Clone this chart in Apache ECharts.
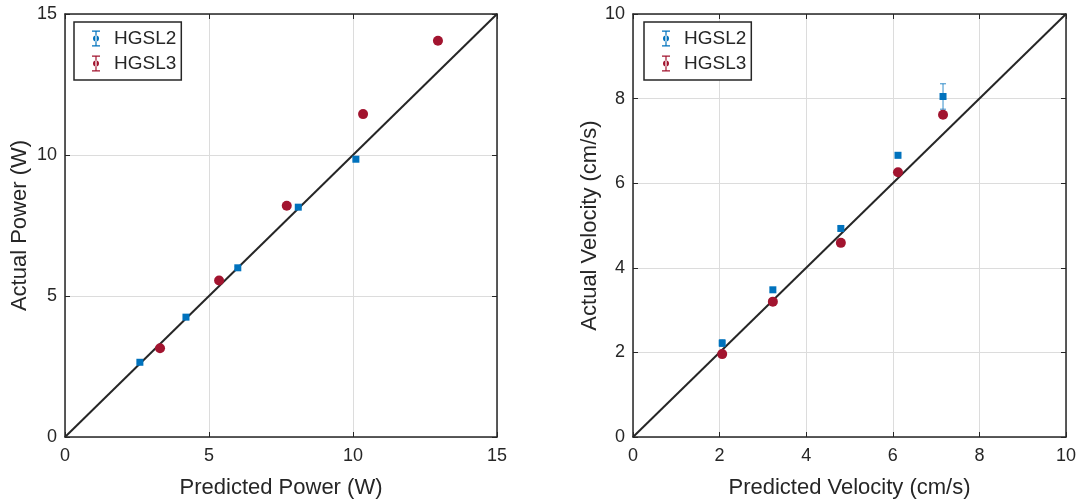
<!DOCTYPE html>
<html>
<head>
<meta charset="utf-8">
<script src="https://cdn.jsdelivr.net/npm/echarts@6/dist/echarts.min.js"></script>
<style>
  html, body { margin: 0; padding: 0; background: #fff; }
  #chart { width: 1083px; height: 502px; }
</style>
</head>
<body>
<div id="chart"></div>
<script>
// Power comparison (W): [predicted, actual]
const powerHGSL2 = [[2.6, 2.65], [4.2, 4.25], [6.0, 6.0], [8.1, 8.15], [10.1, 9.85]];
const powerHGSL3 = [[3.3, 3.15], [5.35, 5.55], [7.7, 8.2], [10.35, 11.45], [12.95, 14.05]];
const powerErrHGSL2 = [0.04, 0.04, 0.04, 0.04, 0.05];
const powerErrHGSL3 = [0.04, 0.04, 0.04, 0.04, 0.04];

// Velocity comparison (cm/s): [predicted, actual]
const velHGSL2 = [[2.06, 2.22], [3.23, 3.48], [4.8, 4.93], [6.12, 6.66], [7.16, 8.05]];
const velHGSL3 = [[2.06, 1.96], [3.23, 3.2], [4.8, 4.59], [6.12, 6.26], [7.16, 7.62]];
const velErrHGSL2 = [0.08, 0.05, 0.05, 0.06, 0.3];
const velErrHGSL3 = [0.04, 0.04, 0.05, 0.05, 0.06];

const powerTicks = { min: 0, max: 15, interval: 5 };
const velTicks = { min: 0, max: 10, interval: 2 };

const BLUE = '#0072BD';
const RED = '#A2142F';
const INK = '#262626';
const FONT = 'Liberation Sans, Arial, sans-serif';

// legend glyph: error bar with a dot in the middle
const errIcon = 'path://M1,0H9V1.2H1Z M4.4,0H5.6V16H4.4Z M1,14.8H9V16H1Z M2,8A3,3 0 1 0 8,8A3,3 0 1 0 2,8Z';

function withErr(points, errs) {
  return points.map((p, i) => [p[0], p[1], errs[i]]);
}

function errorBars(name, idx, points, errs, color) {
  return {
    type: 'custom', name: name, xAxisIndex: idx, yAxisIndex: idx,
    data: withErr(points, errs), z: 3, silent: true,
    renderItem: function (params, api) {
      const x = api.value(0), y = api.value(1), e = api.value(2);
      const top = api.coord([x, y + e]);
      const bot = api.coord([x, y - e]);
      const hw = 3;
      const st = { stroke: color, lineWidth: 1, opacity: 0.8 };
      return {
        type: 'group',
        children: [
          { type: 'line', shape: { x1: top[0], y1: top[1], x2: bot[0], y2: bot[1] }, style: st },
          { type: 'line', shape: { x1: top[0] - hw, y1: top[1], x2: top[0] + hw, y2: top[1] }, style: st },
          { type: 'line', shape: { x1: bot[0] - hw, y1: bot[1], x2: bot[0] + hw, y2: bot[1] }, style: st }
        ]
      };
    }
  };
}

function markers(name, idx, points, color, symbol, size) {
  return {
    type: 'scatter', name: name, xAxisIndex: idx, yAxisIndex: idx,
    data: points, symbol: symbol, symbolSize: size, z: 4,
    itemStyle: { color: color, opacity: 1 }
  };
}

function identityLine(idx, max) {
  return {
    type: 'line', xAxisIndex: idx, yAxisIndex: idx,
    data: [[0, 0], [max, max]], symbol: 'none', z: 2, silent: true,
    lineStyle: { color: INK, width: 2 }
  };
}

function mainX(idx, ticks, name) {
  return {
    type: 'value', gridIndex: idx, min: ticks.min, max: ticks.max, interval: ticks.interval,
    name: name, nameLocation: 'middle', nameGap: 40,
    nameTextStyle: { color: INK, fontSize: 22, fontFamily: FONT },
    axisLine: { show: true, onZero: false, lineStyle: { color: INK, width: 1.5 } },
    axisTick: { show: true, inside: true, length: 5, lineStyle: { color: INK } },
    axisLabel: { color: INK, fontSize: 18, fontFamily: FONT, margin: 10 },
    splitLine: { show: true, lineStyle: { color: '#dcdcdc', width: 1 } }
  };
}

function mainY(idx, ticks, name, gap) {
  return {
    type: 'value', gridIndex: idx, min: ticks.min, max: ticks.max, interval: ticks.interval,
    name: name, nameLocation: 'middle', nameGap: gap,
    nameTextStyle: { color: INK, fontSize: 22, fontFamily: FONT },
    axisLine: { show: true, onZero: false, lineStyle: { color: INK, width: 1.5 } },
    axisTick: { show: true, inside: true, length: 5, lineStyle: { color: INK } },
    axisLabel: { color: INK, fontSize: 18, fontFamily: FONT, margin: 8 },
    splitLine: { show: true, lineStyle: { color: '#dcdcdc', width: 1 } }
  };
}

// mirror axes on the top / right edges to close the box
function frameX(idx, ticks) {
  return {
    type: 'value', gridIndex: idx, position: 'top', min: ticks.min, max: ticks.max, interval: ticks.interval,
    axisLine: { show: true, onZero: false, lineStyle: { color: INK, width: 1.5 } },
    axisTick: { show: true, inside: true, length: 5, lineStyle: { color: INK } },
    axisLabel: { show: false }, splitLine: { show: false }
  };
}
function frameY(idx, ticks) {
  return {
    type: 'value', gridIndex: idx, position: 'right', min: ticks.min, max: ticks.max, interval: ticks.interval,
    axisLine: { show: true, onZero: false, lineStyle: { color: INK, width: 1.5 } },
    axisTick: { show: true, inside: true, length: 5, lineStyle: { color: INK } },
    axisLabel: { show: false }, splitLine: { show: false }
  };
}

function legendAt(left) {
  return {
    left: left, top: 22, orient: 'vertical',
    padding: [7, 5, 7, 18], itemGap: 6, itemWidth: 10, itemHeight: 16,
    borderColor: INK, borderWidth: 1.5, backgroundColor: '#fff',
    textStyle: { color: INK, fontSize: 19, fontFamily: FONT, padding: [0, 0, 0, 8] },
    selectedMode: false,
    data: [
      { name: 'HGSL2', icon: errIcon, itemStyle: { color: BLUE } },
      { name: 'HGSL3', icon: errIcon, itemStyle: { color: RED } }
    ]
  };
}

const chart = echarts.init(document.getElementById('chart'));
chart.setOption({
  animation: false,
  backgroundColor: '#fff',
  grid: [
    { left: 65, top: 14, width: 432, height: 423, outerBoundsMode: 'none', containLabel: false },
    { left: 633, top: 14, width: 433, height: 423, outerBoundsMode: 'none', containLabel: false }
  ],
  legend: [legendAt(74), legendAt(644)],
  xAxis: [
    mainX(0, powerTicks, 'Predicted Power (W)'),
    mainX(1, velTicks, 'Predicted Velocity (cm/s)'),
    frameX(0, powerTicks),
    frameX(1, velTicks)
  ],
  yAxis: [
    mainY(0, powerTicks, 'Actual Power (W)', 34),
    mainY(1, velTicks, 'Actual Velocity (cm/s)', 31),
    frameY(0, powerTicks),
    frameY(1, velTicks)
  ],
  series: [
    identityLine(0, powerTicks.max),
    identityLine(1, velTicks.max),
    errorBars('HGSL2', 0, powerHGSL2, powerErrHGSL2, BLUE),
    markers('HGSL2', 0, powerHGSL2, BLUE, 'rect', 7),
    errorBars('HGSL3', 0, powerHGSL3, powerErrHGSL3, RED),
    markers('HGSL3', 0, powerHGSL3, RED, 'circle', 10),
    errorBars('HGSL2', 1, velHGSL2, velErrHGSL2, BLUE),
    markers('HGSL2', 1, velHGSL2, BLUE, 'rect', 7),
    errorBars('HGSL3', 1, velHGSL3, velErrHGSL3, RED),
    markers('HGSL3', 1, velHGSL3, RED, 'circle', 10)
  ]
});
</script>
</body>
</html>
